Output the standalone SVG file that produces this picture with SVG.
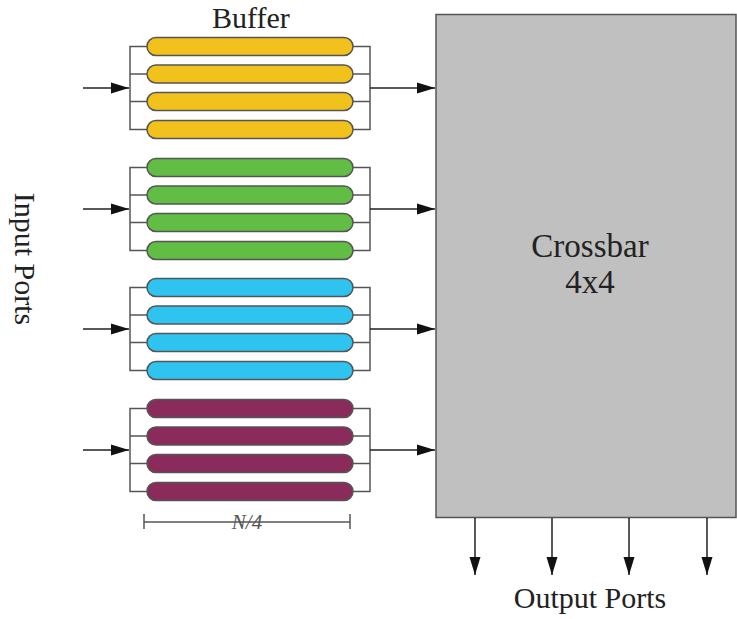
<svg xmlns="http://www.w3.org/2000/svg" width="737" height="619" viewBox="0 0 737 619">
  <style>
    .lbl { font-family: "Liberation Serif", "Times New Roman", serif; fill: #222; }
    .pill { stroke: #555; stroke-width: 1.5; }
    .wire { fill: none; stroke: #555; stroke-width: 1.5; }
    .arrow { fill: none; stroke: #222; stroke-width: 1.5; marker-end: url(#head); }
    .y { fill: #f2c21c; }
    .g { fill: #62bd45; }
    .b { fill: #2ec4ef; }
    .p { fill: #8b2b5b; }
  </style>
  <defs>
    <marker id="head" viewBox="0 0 18 12" refX="18" refY="6" markerWidth="18" markerHeight="12" markerUnits="userSpaceOnUse" orient="auto">
      <path d="M0,0.5 L18,6 L0,11.5 Z" fill="#111"/>
    </marker>
    <g id="bank">
      <path class="wire" d="M147,46.5 H130 V129.5 H147 M130,74 H147 M130,101.5 H147"/>
      <path class="wire" d="M353,46.5 H370 V129.5 H353 M370,74 H353 M370,101.5 H353"/>
    </g>
  </defs>

  <text class="lbl" x="251" y="28" font-size="30" text-anchor="middle">Buffer</text>
  <text class="lbl" x="0" y="0" font-size="30" text-anchor="middle" transform="translate(15,259) rotate(90)">Input Ports</text>

  <g id="crossbar">
    <rect x="436" y="14.5" width="300" height="503" fill="#c0c0c0" stroke="#555" stroke-width="1.5"/>
    <text class="lbl" x="590" y="257" font-size="33" text-anchor="middle">Crossbar</text>
    <text class="lbl" x="590" y="293" font-size="33" text-anchor="middle">4x4</text>
  </g>

  <g id="buffer-yellow">
    <use href="#bank"/>
    <rect class="pill y" x="147" y="37.5" width="206" height="18" rx="9"/>
    <rect class="pill y" x="147" y="65" width="206" height="18" rx="9"/>
    <rect class="pill y" x="147" y="92.5" width="206" height="18" rx="9"/>
    <rect class="pill y" x="147" y="120.5" width="206" height="18" rx="9"/>
  </g>
  <g id="buffer-green" transform="translate(0,121)">
    <use href="#bank"/>
    <rect class="pill g" x="147" y="37.5" width="206" height="18" rx="9"/>
    <rect class="pill g" x="147" y="65" width="206" height="18" rx="9"/>
    <rect class="pill g" x="147" y="92.5" width="206" height="18" rx="9"/>
    <rect class="pill g" x="147" y="120.5" width="206" height="18" rx="9"/>
  </g>
  <g id="buffer-blue" transform="translate(0,241)">
    <use href="#bank"/>
    <rect class="pill b" x="147" y="37.5" width="206" height="18" rx="9"/>
    <rect class="pill b" x="147" y="65" width="206" height="18" rx="9"/>
    <rect class="pill b" x="147" y="92.5" width="206" height="18" rx="9"/>
    <rect class="pill b" x="147" y="120.5" width="206" height="18" rx="9"/>
  </g>
  <g id="buffer-purple" transform="translate(0,362)">
    <use href="#bank"/>
    <rect class="pill p" x="147" y="37.5" width="206" height="18" rx="9"/>
    <rect class="pill p" x="147" y="65" width="206" height="18" rx="9"/>
    <rect class="pill p" x="147" y="92.5" width="206" height="18" rx="9"/>
    <rect class="pill p" x="147" y="120.5" width="206" height="18" rx="9"/>
  </g>

  <g id="connectors">
    <line class="arrow" x1="83" y1="88" x2="129" y2="88"/>
    <line class="arrow" x1="83" y1="209" x2="129" y2="209"/>
    <line class="arrow" x1="83" y1="329" x2="129" y2="329"/>
    <line class="arrow" x1="83" y1="450" x2="129" y2="450"/>
    <line class="arrow" x1="370" y1="88" x2="435" y2="88"/>
    <line class="arrow" x1="370" y1="209" x2="435" y2="209"/>
    <line class="arrow" x1="370" y1="329" x2="435" y2="329"/>
    <line class="arrow" x1="370" y1="450" x2="435" y2="450"/>
    <line class="arrow" x1="475" y1="518" x2="475" y2="575"/>
    <line class="arrow" x1="552" y1="518" x2="552" y2="575"/>
    <line class="arrow" x1="629" y1="518" x2="629" y2="575"/>
    <line class="arrow" x1="707" y1="518" x2="707" y2="575"/>
  </g>

  <g id="scale">
    <path class="wire" d="M144,522 H350 M144,514 V529 M350,514 V529"/>
    <text class="lbl" x="247" y="529" font-size="21" font-style="italic" text-anchor="middle" style="fill:#555">N/4</text>
  </g>

  <text class="lbl" x="590" y="608" font-size="30" text-anchor="middle">Output Ports</text>
</svg>
